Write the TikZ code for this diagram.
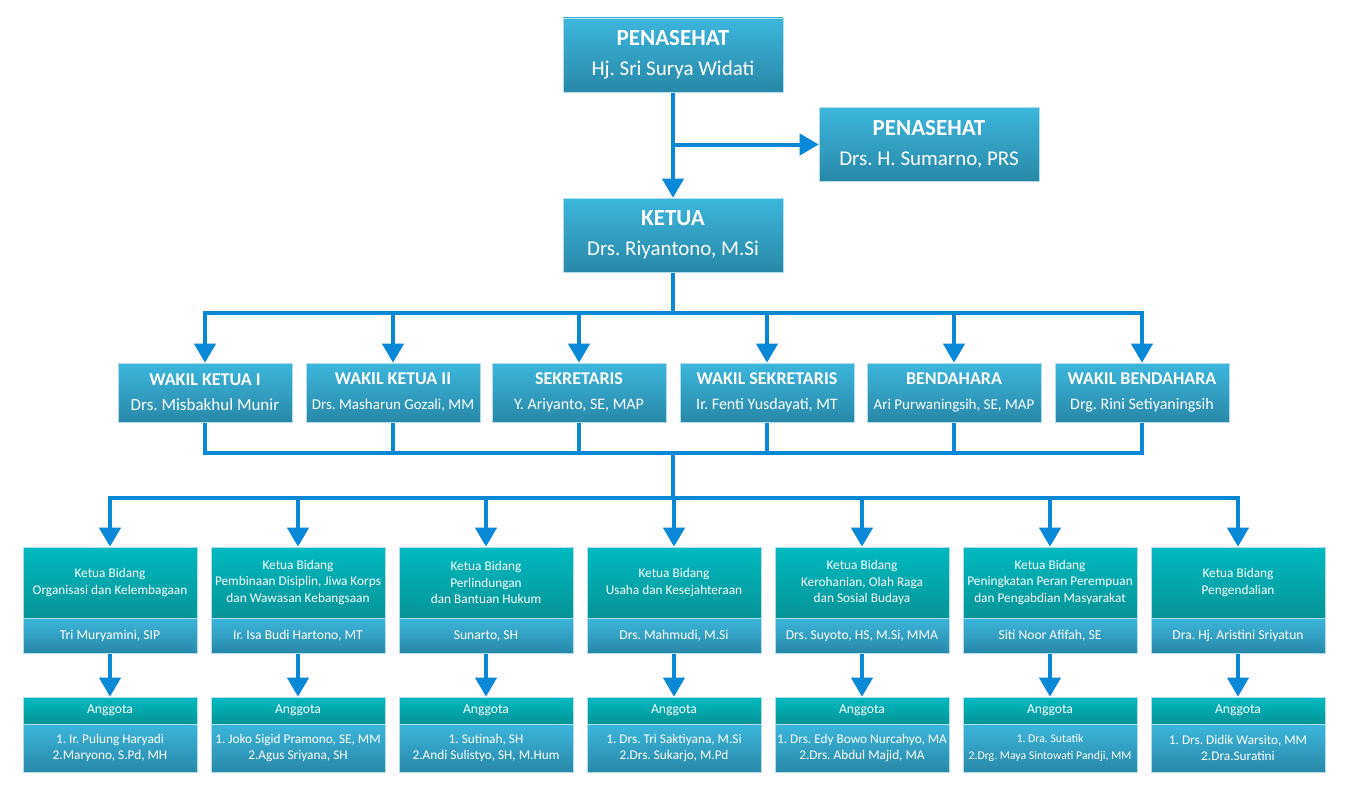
\documentclass[tikz,border=0pt]{standalone}
\usepackage{fontspec}
\setmainfont{Carlito}
\usetikzlibrary{arrows.meta}
\frenchspacing

\definecolor{bluetop}{RGB}{60,182,220}
\definecolor{bluebot}{RGB}{40,136,168}
\definecolor{tealtop}{RGB}{0,186,192}
\definecolor{tealbot}{RGB}{6,148,150}
\definecolor{boxedge}{RGB}{176,222,236}
\definecolor{linkblue}{RGB}{8,136,214}

\pgfdeclarelayer{links}
\pgfsetlayers{links,main}

\tikzset{
  box/.style={draw=boxedge, line width=0.6pt, inner sep=0pt, align=center,
    text=white, minimum width=174pt},
  bluebox/.style={box, top color=bluetop, bottom color=bluebot},
  tealbox/.style={box, top color=tealtop, bottom color=tealbot},
  headbox/.style={bluebox, minimum width=220pt, minimum height=74pt,
    font=\fontsize{21}{30}\selectfont},
  officebox/.style={bluebox, minimum height=59pt,
    font=\fontsize{16}{25}\selectfont},
  fieldbox/.style={tealbox, minimum height=71pt,
    font=\fontsize{13.3}{16.6}\selectfont},
  chairbox/.style={bluebox, minimum height=35pt,
    font=\fontsize{13.6}{16.6}\selectfont},
  memberhead/.style={tealbox, minimum height=27pt,
    font=\fontsize{13.6}{16.6}\selectfont},
  memberbox/.style={bluebox, minimum height=48pt,
    font=\fontsize{13.3}{16.6}\selectfont},
  conn/.style={draw=linkblue, line width=4pt, line cap=rect, line join=miter},
  arr/.style={draw=linkblue, line width=4pt,
    -{Triangle[width=21pt,length=19pt]}},
}
\newcommand{\headtitle}[1]{{\bfseries\fontsize{23}{30}\selectfont #1}}
\newcommand{\officetitle}[1]{{\bfseries\fontsize{18}{25}\selectfont #1}}

\begin{document}
\begin{tikzpicture}[x=1pt,y=-1pt]
\useasboundingbox (0,0) rectangle (1353,800);

% advisers and chairman
\node[headbox] (p1) at (673,55) {\headtitle{PENASEHAT}\\Hj. Sri Surya Widati};
\node[headbox] (p2) at (929,144.5) {\headtitle{PENASEHAT}\\Drs. H. Sumarno, PRS};
\node[headbox] (k) at (673,235) {\headtitle{KETUA}\\Drs. Riyantono, M.Si};

% deputies, secretaries, treasurers
\node[officebox] (w1) at (205,392.5) {\officetitle{WAKIL KETUA I}\\{\fontsize{17}{25}\selectfont Drs. Misbakhul Munir}};
\node[officebox] (w2) at (393,392.5) {\officetitle{WAKIL KETUA II}\\{\fontsize{15}{25}\selectfont Drs. Masharun Gozali, MM}};
\node[officebox] (w3) at (579,392.5) {\officetitle{SEKRETARIS}\\Y. Ariyanto, SE, MAP};
\node[officebox] (w4) at (767,392.5) {\officetitle{WAKIL SEKRETARIS}\\Ir. Fenti Yusdayati, MT};
\node[officebox] (w5) at (954,392.5) {\officetitle{BENDAHARA}\\{\fontsize{15}{25}\selectfont Ari Purwaningsih, SE, MAP}};
\node[officebox] (w6) at (1142,392.5) {\officetitle{WAKIL BENDAHARA}\\Drg. Rini Setiyaningsih};

% fields: heading, chair, members
\node[fieldbox] (kb1) at (110,582.5) {Ketua Bidang\\Organisasi dan Kelembagaan};
\node[fieldbox] (kb2) at (298,582.5) {Ketua Bidang\\Pembinaan Disiplin, Jiwa Korps\\dan Wawasan Kebangsaan};
\node[fieldbox] (kb3) at (486,582.5) {Ketua Bidang\\Perlindungan\\dan Bantuan Hukum};
\node[fieldbox] (kb4) at (674,582.5) {Ketua Bidang\\Usaha dan Kesejahteraan};
\node[fieldbox] (kb5) at (862,582.5) {Ketua Bidang\\Kerohanian, Olah Raga\\dan Sosial Budaya};
\node[fieldbox] (kb6) at (1050,582.5) {Ketua Bidang\\Peningkatan Peran Perempuan\\dan Pengabdian Masyarakat};
\node[fieldbox] (kb7) at (1238,582.5) {Ketua Bidang\\Pengendalian};

\node[chairbox] (kn1) at (110,635.5) {Tri Muryamini, SIP};
\node[chairbox] (kn2) at (298,635.5) {Ir. Isa Budi Hartono, MT};
\node[chairbox] (kn3) at (486,635.5) {Sunarto, SH};
\node[chairbox] (kn4) at (674,635.5) {Drs. Mahmudi, M.Si};
\node[chairbox] (kn5) at (862,635.5) {Drs. Suyoto, HS, M.Si, MMA};
\node[chairbox] (kn6) at (1050,635.5) {Siti Noor Afifah, SE};
\node[chairbox] (kn7) at (1238,635.5) {Dra. Hj. Aristini Sriyatun};

\foreach \i/\x in {1/110,2/298,3/486,4/674,5/862,6/1050,7/1238}
  \node[memberhead] (ag\i) at (\x,710.5) {Anggota};

\node[memberbox] (am1) at (110,748) {1. Ir. Pulung Haryadi\\2.Maryono, S.Pd, MH};
\node[memberbox] (am2) at (298,748) {1. Joko Sigid Pramono, SE, MM\\2.Agus Sriyana, SH};
\node[memberbox] (am3) at (486,748) {1. Sutinah, SH\\2.Andi Sulistyo, SH, M.Hum};
\node[memberbox] (am4) at (674,748) {1. Drs. Tri Saktiyana, M.Si\\2.Drs. Sukarjo, M.Pd};
\node[memberbox] (am5) at (862,748) {1. Drs. Edy Bowo Nurcahyo, MA\\2.Drs. Abdul Majid, MA};
\node[memberbox, font=\fontsize{11.8}{16.6}\selectfont] (am6) at (1050,748) {1. Dra. Sutatik\\2.Drg. Maya Sintowati Pandji, MM};
\node[memberbox] (am7) at (1238,748) {1. Drs. Didik Warsito, MM\\2.Dra.Suratini};

% connectors, kept behind the boxes
\begin{pgfonlayer}{links}
  \fill[white] (0,0) rectangle (1353,800);
  \coordinate (busA) at (673,313);
  \coordinate (busB) at (673,453);
  \coordinate (busC) at (673,498);

  \draw[arr] (p1.south) -- (k.north);
  \draw[arr] (p1.south |- p2.west) -- (p2.west);

  \draw[conn] (k.south) -- (busA);
  \draw[conn] (w1.north |- busA) -- (w6.north |- busA);
  \foreach \i in {1,...,6}
    \draw[arr] (w\i.north |- busA) -- (w\i.north);

  \draw[conn] (w1.south) -- (w1.south |- busB) -- (w6.south |- busB) -- (w6.south);
  \foreach \i in {2,...,5}
    \draw[conn] (w\i.south) -- (w\i.south |- busB);
  \draw[conn] (busB) -- (busC);

  \draw[conn] (kb1.north |- busC) -- (kb7.north |- busC);
  \foreach \i in {1,...,7}{
    \draw[arr] (kb\i.north |- busC) -- (kb\i.north);
    \draw[arr] (kn\i.south) -- (ag\i.north);
  }
\end{pgfonlayer}
\end{tikzpicture}
\end{document}
